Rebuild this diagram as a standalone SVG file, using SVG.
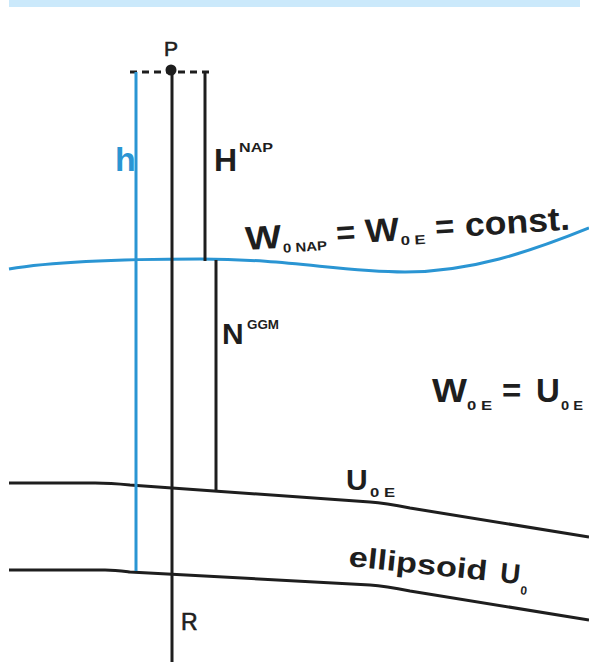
<svg xmlns="http://www.w3.org/2000/svg" width="589" height="665" viewBox="0 0 589 665">
<style>
text{font-family:"Liberation Sans",Arial,sans-serif;fill:#1e1e1e}
.b{font-weight:bold}
.m{stroke:#1e1e1e;stroke-width:0.6}
.big{font-size:33px;font-weight:bold}
.sub{font-size:13px;font-weight:bold}
.k{fill:none;stroke:#1e1e1e;stroke-width:3}
.bl{fill:none;stroke:#2a95d3;stroke-width:3}
</style>
<rect id="band" x="9" y="0" width="571" height="7" fill="#cbe9fb"/>
<g id="surfaces">
<path id="geoid" class="bl" d="M9,269 C50,262 110,259 200,259 C290,259 340,272 405,272 C470,272 530,252 589,228"/>
<path id="u0e-line" class="k" d="M9,483 L95,483 C110,483 120,484 130,485 L370,502 C385,503 395,505 410,508 L589,537"/>
<path id="ellipsoid-line" class="k" d="M9,570 L105,570 C115,570 122,571 130,572 L370,585 C385,586 395,588 410,591 L589,620"/>
</g>
<g id="connectors">
<line class="k" x1="130" y1="72" x2="212" y2="72" stroke-dasharray="7 5"/>
<line class="k" x1="172" y1="70" x2="172" y2="662"/>
<line class="bl" x1="136" y1="72" x2="136" y2="571"/>
<line class="k" x1="205" y1="72" x2="205" y2="261"/>
<line class="k" x1="216" y1="260" x2="216" y2="491"/>
<circle cx="171" cy="70" r="5.5" fill="#1e1e1e"/>
</g>
<g id="P"><text x="164" y="56" font-size="21" class="m">P</text></g>
<g id="R"><text x="181" y="630" font-size="23" class="m">R</text></g>
<g id="h"><text x="115" y="171" font-size="34" class="b" style="fill:#2a95d3">h</text></g>
<g id="HNAP"><text x="214" y="171" font-size="32" class="b">H</text><text x="239" y="152" class="sub" textLength="34" lengthAdjust="spacingAndGlyphs">NAP</text></g>
<g id="NGGM"><text x="222" y="344" font-size="30" class="b">N</text><text x="247" y="329" font-size="12" class="b" textLength="32" lengthAdjust="spacingAndGlyphs">GGM</text></g>
<g id="geoid-label" transform="rotate(-3.6 247 250)">
<text x="246" y="250" class="big" textLength="36" lengthAdjust="spacingAndGlyphs">W</text>
<text x="283" y="255" class="sub" textLength="44" lengthAdjust="spacingAndGlyphs">0 NAP</text>
<text x="337" y="250" class="big">=</text>
<text x="366" y="250" class="big" textLength="34" lengthAdjust="spacingAndGlyphs">W</text>
<text x="401" y="255" class="sub" textLength="25" lengthAdjust="spacingAndGlyphs">0 E</text>
<text x="436" y="250" class="big">=</text>
<text x="466" y="250" class="big" textLength="105" lengthAdjust="spacingAndGlyphs">const.</text>
</g>
<g id="W0E-U0E">
<text x="432" y="402" class="big" textLength="35" lengthAdjust="spacingAndGlyphs">W</text>
<text x="467" y="410" class="sub" textLength="25" lengthAdjust="spacingAndGlyphs">0 E</text>
<text x="502" y="402" class="big">=</text>
<text x="536" y="402" class="big">U</text>
<text x="561" y="410" class="sub" textLength="22" lengthAdjust="spacingAndGlyphs">0 E</text>
</g>
<g id="U0E-label">
<text x="346" y="490" font-size="30" class="b">U</text>
<text x="370" y="497" class="sub" textLength="25" lengthAdjust="spacingAndGlyphs">0 E</text>
</g>
<g id="ellipsoid-label" transform="rotate(6 348 566)">
<text x="348" y="566" font-size="28" class="b" textLength="139" lengthAdjust="spacingAndGlyphs">ellipsoid</text>
<text x="500" y="566" font-size="28" class="b">U</text>
<text x="522" y="576" font-size="12" class="b">0</text>
</g>
</svg>
